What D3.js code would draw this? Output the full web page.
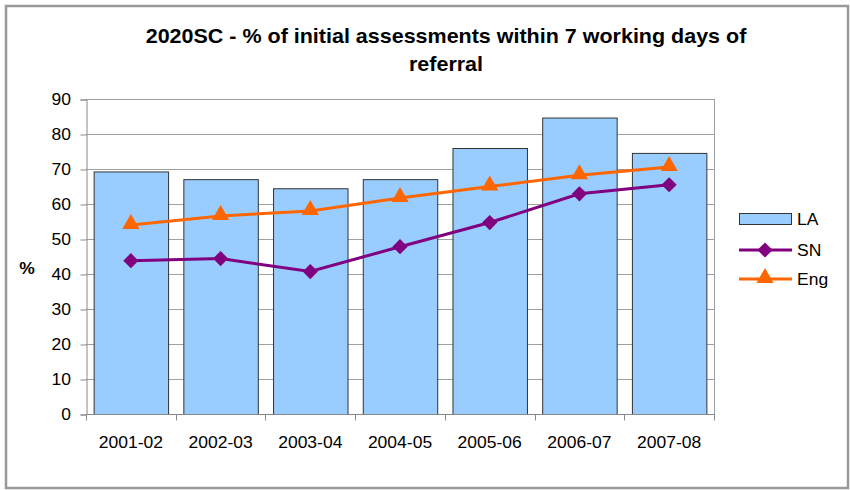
<!DOCTYPE html>
<html>
<head>
<meta charset="utf-8">
<script src="https://cdn.jsdelivr.net/npm/d3@7"></script>
<style>
  html, body { margin: 0; padding: 0; background: #fff; }
  text { font-family: Arial, "Liberation Sans", sans-serif; fill: #000; }
</style>
</head>
<body>
<svg id="chart" width="850" height="490"></svg>
<script>
// Years on the category axis
const years = ["2001-02", "2002-03", "2003-04", "2004-05", "2005-06", "2006-07", "2007-08"];
// Local authority (bars)
const laValues = [69.3, 67.1, 64.5, 67.1, 76.0, 84.7, 74.6];
// Statistical neighbours (purple line)
const snValues = [43.8, 44.4, 40.7, 47.8, 54.7, 62.9, 65.5];
// England average (orange line)
const engValues = [54.0, 56.6, 58.0, 61.7, 65.0, 68.2, 70.6];
const yTicks = [0, 10, 20, 30, 40, 50, 60, 70, 80, 90];
const seriesNames = ["LA", "SN", "Eng"];

const svg = d3.select("#chart");
const plot = { left: 86, right: 714, top: 99, bottom: 414 };

const x = d3.scaleBand().domain(years).range([plot.left, plot.right])
  .paddingInner(0.17).paddingOuter(0.085);
const y = d3.scaleLinear().domain([0, 90]).range([plot.bottom, plot.top]);
const step = (plot.right - plot.left) / years.length;

// outer frame
svg.append("rect").attr("x", 6).attr("y", 6).attr("width", 842).attr("height", 482)
  .attr("fill", "#fff").attr("stroke", "#999").attr("stroke-width", 2.5);

// text helper with optional horizontal widening
function label(g, tx, ty, str, opts = {}) {
  return g.append("text")
    .attr("transform", `translate(${tx},${ty}) scale(${opts.sx || 1.03},1)`)
    .attr("text-anchor", opts.anchor || "start")
    .attr("font-size", opts.size || 17)
    .attr("font-weight", opts.weight || "normal")
    .text(str);
}

// title
label(svg, 446, 43, "2020SC - % of initial assessments within 7 working days of", { anchor: "middle", size: 20, weight: "bold", sx: 1.075 });
label(svg, 446, 71, "referral", { anchor: "middle", size: 20, weight: "bold", sx: 1.075 });

// gridlines
svg.append("g").selectAll("line").data(yTicks.filter(d => d > 0)).join("line")
  .attr("x1", plot.left).attr("x2", plot.right)
  .attr("y1", d => Math.round(y(d)) + 0.5).attr("y2", d => Math.round(y(d)) + 0.5)
  .attr("stroke", "#a0a0a0").attr("stroke-width", 1);

// right edge of plot area
svg.append("line").attr("x1", plot.right + 0.5).attr("x2", plot.right + 0.5)
  .attr("y1", plot.top).attr("y2", plot.bottom).attr("stroke", "#a0a0a0");

// y axis
const yAxis = d3.axisLeft(y).tickValues(yTicks).tickSize(6).tickPadding(5);
const yg = svg.append("g").attr("transform", `translate(${plot.left + 0.5},0.5)`).call(yAxis);
yg.select(".domain").attr("stroke", "#888");
yg.selectAll(".tick line").attr("stroke", "#888");
yg.selectAll(".tick text").remove();
yTicks.forEach(v => label(svg, 71, y(v) + 6, String(v), { anchor: "end" }));

// y axis title
label(svg, 27, 274, "%", { anchor: "middle", weight: "bold" });

// bars
svg.append("g").selectAll("rect").data(laValues).join("rect")
  .attr("x", (d, i) => x(years[i]) + 0.5)
  .attr("y", d => y(d) + 0.5)
  .attr("width", x.bandwidth())
  .attr("height", d => plot.bottom - y(d))
  .attr("fill", "#99ccff").attr("stroke", "#333").attr("stroke-width", 1);

// x axis
const xg = svg.append("g").attr("transform", `translate(0,${plot.bottom + 0.5})`);
xg.append("line").attr("x1", plot.left).attr("x2", plot.right + 1).attr("stroke", "#888");
xg.selectAll("line.tk").data(d3.range(years.length + 1)).join("line").attr("class", "tk")
  .attr("x1", i => Math.round(plot.left + i * step) + 0.5)
  .attr("x2", i => Math.round(plot.left + i * step) + 0.5)
  .attr("y1", 0).attr("y2", 6).attr("stroke", "#888");
years.forEach(yr => label(svg, x(yr) + x.bandwidth() / 2, 448, yr, { anchor: "middle" }));

const cx = i => x(years[i]) + x.bandwidth() / 2;
const line = d3.line().x((d, i) => cx(i)).y(d => y(d));
const diamond = d3.symbol().type(d3.symbolSquare).size(115);
const triangle = d3.symbol().type(d3.symbolTriangle).size(130);

// SN line
svg.append("path").datum(snValues).attr("d", line)
  .attr("fill", "none").attr("stroke", "#800080").attr("stroke-width", 3);
svg.append("g").selectAll("path").data(snValues).join("path")
  .attr("d", diamond)
  .attr("transform", (d, i) => `translate(${cx(i)},${y(d)}) rotate(45)`)
  .attr("fill", "#800080");

// Eng line
svg.append("path").datum(engValues).attr("d", line)
  .attr("fill", "none").attr("stroke", "#ff6600").attr("stroke-width", 3);
svg.append("g").selectAll("path").data(engValues).join("path")
  .attr("d", triangle)
  .attr("transform", (d, i) => `translate(${cx(i)},${y(d) - 1})`)
  .attr("fill", "#ff6600");

// legend
const lg = svg.append("g");
lg.append("rect").attr("x", 739.5).attr("y", 213.5).attr("width", 52).attr("height", 11)
  .attr("fill", "#99ccff").attr("stroke", "#333");
label(lg, 797, 225, seriesNames[0]);
lg.append("line").attr("x1", 739).attr("x2", 792).attr("y1", 250).attr("y2", 250)
  .attr("stroke", "#800080").attr("stroke-width", 3);
lg.append("path").attr("d", diamond)
  .attr("transform", "translate(765,250) rotate(45)").attr("fill", "#800080");
label(lg, 797, 256, seriesNames[1]);
lg.append("line").attr("x1", 739).attr("x2", 792).attr("y1", 279).attr("y2", 279)
  .attr("stroke", "#ff6600").attr("stroke-width", 3);
lg.append("path").attr("d", triangle)
  .attr("transform", "translate(765,278)").attr("fill", "#ff6600");
label(lg, 797, 285, seriesNames[2]);
</script>
</body>
</html>
